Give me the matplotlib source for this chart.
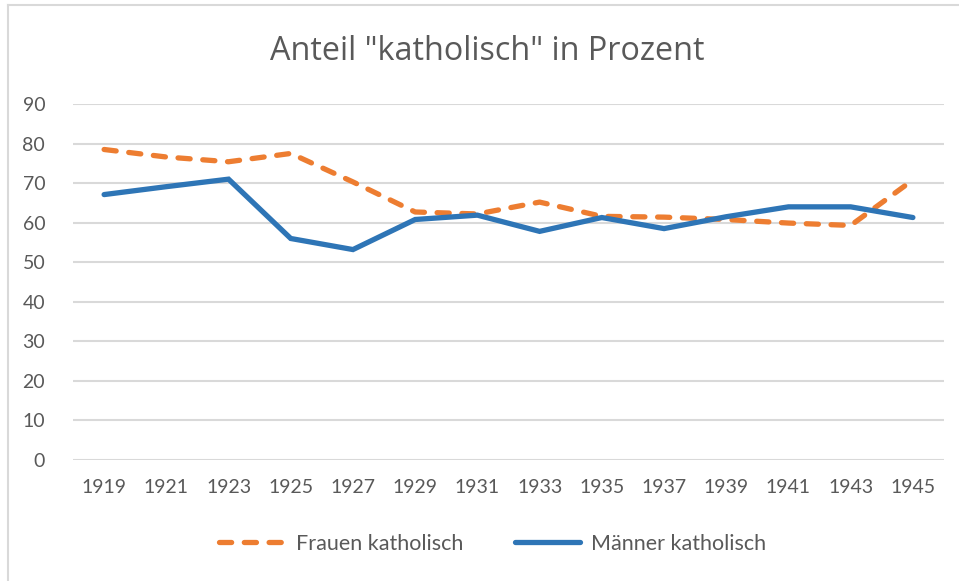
import matplotlib
matplotlib.use("Agg")
import matplotlib.pyplot as plt
from matplotlib.lines import Line2D

years = ["1919", "1921", "1923", "1925", "1927", "1929", "1931",
         "1933", "1935", "1937", "1939", "1941", "1943", "1945"]
frauen = [78.5, 76.6, 75.4, 77.5, 70.3, 62.7, 62.2, 65.2, 61.6, 61.4, 60.8, 59.9, 59.3, 70.8]
maenner = [67.1, 69.1, 71.0, 56.0, 53.2, 60.8, 61.9, 57.8, 61.3, 58.5, 61.5, 64.0, 64.0, 61.3]
yticks = [0, 10, 20, 30, 40, 50, 60, 70, 80, 90]

FONT = "Lato"
GRAY = "#595959"
ORANGE = "#ED7D31"
BLUE = "#2E75B6"

W, H = 959, 581
fig = plt.figure(figsize=(W / 100, H / 100), dpi=100)
fig.patch.set_facecolor("white")

# chart frame (partially cropped in reference)
fig.add_artist(Line2D([8 / W, 1.0], [1 - 5 / H, 1 - 5 / H], color="#d9d9d9", lw=1.5))
fig.add_artist(Line2D([8 / W, 8 / W], [1 - 5 / H, 0.0], color="#d9d9d9", lw=1.5))

left, right = 73 / W, 944 / W
bottom, top = 1 - 460 / H, 1 - 104 / H
ax = fig.add_axes([left, bottom, right - left, top - bottom])

x = list(range(len(years)))
ax.plot(x, frauen, color=ORANGE, lw=3.8, dashes=(2.3, 2.4), solid_capstyle="round",
        dash_capstyle="round", label="Frauen katholisch", zorder=3)
ax.plot(x, maenner, color=BLUE, lw=3.8, solid_capstyle="round", solid_joinstyle="miter",
        label="Männer katholisch", zorder=4)

ax.set_xlim(-0.5, len(years) - 0.5)
ax.set_ylim(0, 90)
ax.set_yticks(yticks)
ax.set_yticklabels([str(v) for v in yticks], fontfamily=FONT, fontsize=14, color=GRAY)
ax.set_xticks(x)
ax.set_xticklabels(years, fontfamily=FONT, fontsize=14, color=GRAY)
ax.tick_params(axis="both", length=0)
ax.tick_params(axis="y", pad=20)
ax.tick_params(axis="x", pad=14)
for s in ax.spines.values():
    s.set_visible(False)
ax.grid(axis="y", color="#d9d9d9", lw=1.5)
ax.set_axisbelow(True)

fig.text(487 / W, 1 - 51 / H, 'Anteil "katholisch" in Prozent', ha="center", va="center",
         fontfamily="Open Sans", fontsize=23.3, color=GRAY)

leg = fig.legend(loc="center", bbox_to_anchor=(493 / W, 1 - 544 / H), ncol=2, frameon=False,
                 prop={"family": FONT, "size": 15.5}, handlelength=3.0, columnspacing=2.4,
                 handletextpad=0.55)
for t in leg.get_texts():
    t.set_color(GRAY)

fig.savefig("out.png", dpi=100, facecolor="white")
